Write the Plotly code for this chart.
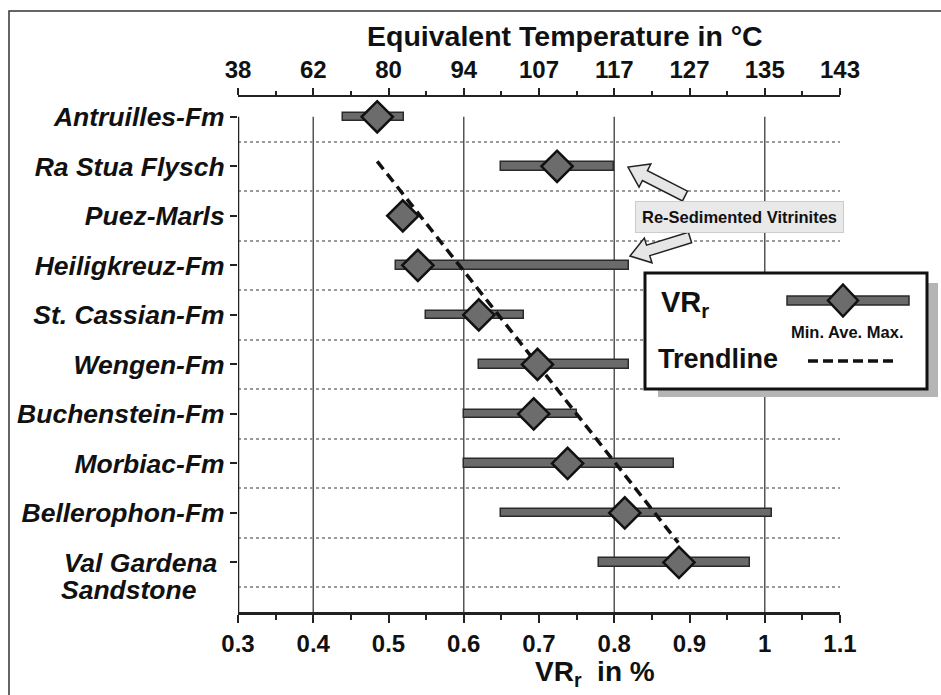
import plotly.graph_objects as go

# ---------------- data ----------------
categories = ["Antruilles-Fm", "Ra Stua Flysch", "Puez-Marls", "Heiligkreuz-Fm",
              "St. Cassian-Fm", "Wengen-Fm", "Buchenstein-Fm", "Morbiac-Fm",
              "Bellerophon-Fm", "Val Gardena "]
vr_min = [0.44, 0.65, 0.52, 0.51, 0.55, 0.62, 0.60, 0.60, 0.65, 0.78]
vr_ave = [0.485, 0.724, 0.519, 0.539, 0.62, 0.698, 0.693, 0.738, 0.814, 0.886]
vr_max = [0.52, 0.80, 0.52, 0.82, 0.68, 0.82, 0.75, 0.88, 1.01, 0.98]
vr_ticks = [0.3, 0.4, 0.5, 0.6, 0.7, 0.8, 0.9, 1.0, 1.1]
temp_ticklabels = ["38", "62", "80", "94", "107", "117", "127", "135", "143"]
trend_x = [0.485, 0.885]
trend_y = [0.9, 8.6]          # in category-index units
grid_x = [0.4, 0.6, 0.8, 1.0]

# ---------------- layout constants ----------------
W, H = 941, 695
ML, MR, MT, MB = 238, 101, 97, 83
PW, PH = W - ML - MR, H - MT - MB
FONT = "Liberation Sans, Arial, Helvetica, sans-serif"
INK = "#111111"


def pp(x, y):
    """pixel -> paper coordinates"""
    return (x - ML) / PW, (H - MB - y) / PH


def path_px(points):
    pts = [pp(x, y) for x, y in points]
    return "M " + " L ".join(f"{a:.5f},{b:.5f}" for a, b in pts) + " Z"


def block_arrow(tail, tip, w=5.5, h=13, L=19):
    import math
    dx, dy = tip[0] - tail[0], tip[1] - tail[1]
    d = math.hypot(dx, dy)
    ux, uy = dx / d, dy / d
    nx, ny = -uy, ux
    bx, by = tip[0] - ux * L, tip[1] - uy * L
    pts = [(tail[0] + nx * w, tail[1] + ny * w), (bx + nx * w, by + ny * w),
           (bx + nx * h, by + ny * h), tip, (bx - nx * h, by - ny * h),
           (bx - nx * w, by - ny * w), (tail[0] - nx * w, tail[1] - ny * w)]
    return path_px(pts)


idx = list(range(len(categories)))
minor_x = [(a + b) / 2 for a, b in zip(vr_ticks[:-1], vr_ticks[1:])]

fig = go.Figure()

# min-max bars
fig.add_trace(go.Bar(
    y=idx, x=[mx - mn for mn, mx in zip(vr_min, vr_max)], base=vr_min,
    orientation="h", width=0.17,
    marker=dict(color="#6a6a6a", line=dict(color="#2a2a2a", width=1.5)),
    showlegend=False, hoverinfo="skip"))

# trendline
fig.add_trace(go.Scatter(
    x=trend_x, y=trend_y, mode="lines",
    line=dict(color="#111111", width=3.5, dash="10px,6px"),
    showlegend=False, hoverinfo="skip"))

# averages
fig.add_trace(go.Scatter(
    x=vr_ave, y=idx, mode="markers", cliponaxis=False,
    marker=dict(symbol="diamond", size=24, color="#6c6c6c",
                line=dict(color="#111111", width=2.5)),
    showlegend=False, hoverinfo="skip"))

# dummy trace to activate top axis
fig.add_trace(go.Scatter(x=vr_ticks, y=[0] * len(vr_ticks), xaxis="x2",
                         mode="none", showlegend=False, hoverinfo="skip"))

shapes = []
# vertical grid lines
for v in grid_x:
    shapes.append(dict(type="line", xref="x", yref="y", x0=v, x1=v, y0=0, y1=10,
                       line=dict(color="#555555", width=1.5), layer="below"))
# left axis line
shapes.append(dict(type="line", xref="x", yref="y", x0=0.3, x1=0.3, y0=0, y1=10,
                   line=dict(color="#222222", width=2.5), layer="above"))
# outer frame
fx0, fy0 = pp(9, 11)
fx1, fy1 = pp(960, 720)
shapes.append(dict(type="rect", xref="paper", yref="paper", x0=fx0, y0=fy1, x1=fx1, y1=fy0,
                   line=dict(color="#333333", width=1.5), fillcolor="rgba(0,0,0,0)", layer="above"))
# arrows
shapes.append(dict(type="path", xref="paper", yref="paper", path=block_arrow((685, 196), (628, 167)),
                   fillcolor="#e6e6e6", line=dict(color="#222222", width=1.5), layer="above"))
shapes.append(dict(type="path", xref="paper", yref="paper", path=block_arrow((690, 237.5), (630, 256)),
                   fillcolor="#e6e6e6", line=dict(color="#222222", width=1.5), layer="above"))
# legend shadow + box
sx0, sy0 = pp(658, 283)
sx1, sy1 = pp(938, 397)
shapes.append(dict(type="rect", xref="paper", yref="paper", x0=sx0, y0=sy1, x1=sx1, y1=sy0,
                   fillcolor="#b5b5b5", line=dict(width=0), layer="above"))
bx0, by0 = pp(645, 273)
bx1, by1 = pp(927, 389)
shapes.append(dict(type="rect", xref="paper", yref="paper", x0=bx0, y0=by1, x1=bx1, y1=by0,
                   fillcolor="white", line=dict(color="#111111", width=3), layer="above"))
# legend bar sample
lx0, ly0 = pp(787, 296)
lx1, ly1 = pp(909, 305)
shapes.append(dict(type="rect", xref="paper", yref="paper", x0=lx0, y0=ly1, x1=lx1, y1=ly0,
                   fillcolor="#6a6a6a", line=dict(color="#2a2a2a", width=1.5), layer="above"))
cx, cy = 843, 300.5
shapes.append(dict(type="path", xref="paper", yref="paper",
                   path=path_px([(cx, cy - 16), (cx + 15, cy), (cx, cy + 16), (cx - 15, cy)]),
                   fillcolor="#6c6c6c", line=dict(color="#111111", width=2.5), layer="above"))
dx0, dy0 = pp(808, 361)
dx1, _ = pp(897, 361)
shapes.append(dict(type="line", xref="paper", yref="paper", x0=dx0, x1=dx1, y0=dy0, y1=dy0,
                   line=dict(color="#111111", width=3.5, dash="10px,5px"), layer="above"))

annotations = []


def ann(text, x, y, size, xanchor="center", **kw):
    px_, py_ = pp(x, y)
    annotations.append(dict(text=text, x=px_, y=py_, xref="paper", yref="paper",
                            xanchor=xanchor, yanchor="middle", showarrow=False,
                            font=dict(family=FONT, size=size, color=INK, weight="bold",
                                      style=kw.pop("style", "normal")), **kw))


ann("Equivalent Temperature in °C", 565, 36, 28.5)
ann("VR<sub>r</sub>  in %", 595, 673, 28)
ann("Sandstone", 59, 590, 26.5, xanchor="left", style="italic")
ann("Re-Sedimented Vitrinites", 739, 216.5, 16.5, bgcolor="#e9e9e9",
    bordercolor="#cccccc", borderwidth=1, borderpad=6)
ann("VR<sub>r</sub>", 659, 304, 29, xanchor="left")
ann("Min. Ave. Max.", 847, 332, 16.5)
ann("Trendline", 656, 359, 27, xanchor="left")

fig.update_layout(
    width=W, height=H,
    margin=dict(l=ML, r=MR, t=MT, b=MB, pad=0),
    paper_bgcolor="white", plot_bgcolor="white",
    font=dict(family=FONT, color=INK),
    showlegend=False,
    bargap=0,
    xaxis=dict(range=[0.3, 1.1], tickmode="linear", tick0=0.3, dtick=0.1,
               showgrid=False, zeroline=False,
               showline=True, linewidth=3, linecolor="#222222",
               ticks="outside", ticklen=8, tickwidth=2, tickcolor="#222222",
               minor=dict(tickmode="array", tickvals=minor_x, ticks="outside",
                          ticklen=5, tickwidth=2, tickcolor="#222222", showgrid=False),
               tickfont=dict(family=FONT, size=24, color=INK, weight="bold")),
    xaxis2=dict(range=[0.3, 1.1], overlaying="x", side="top", anchor="y",
                tickmode="array", tickvals=vr_ticks, ticktext=temp_ticklabels,
                showgrid=False, zeroline=False,
                showline=True, linewidth=2, linecolor="#222222",
                ticks="outside", ticklen=7, tickwidth=2, tickcolor="#222222",
                minor=dict(tickmode="array", tickvals=minor_x, ticks="outside",
                           ticklen=4, tickwidth=2, tickcolor="#222222", showgrid=False),
                tickfont=dict(family=FONT, size=24, color=INK, weight="bold")),
    yaxis=dict(range=[10, -0.4], tickmode="array", tickvals=idx, ticktext=categories,
               showgrid=False, zeroline=False, showline=False,
               ticks="outside", ticklen=7, tickwidth=2, tickcolor="#222222",
               minor=dict(tickmode="array", tickvals=[i + 0.5 for i in idx],
                          ticks="", showgrid=True, griddash="dot",
                          gridcolor="#9a9a9a", gridwidth=1.5),
               tickfont=dict(family=FONT, size=26.5, color=INK, weight="bold", style="italic")),
    shapes=shapes,
    annotations=annotations,
)

fig.write_html("out.html")
